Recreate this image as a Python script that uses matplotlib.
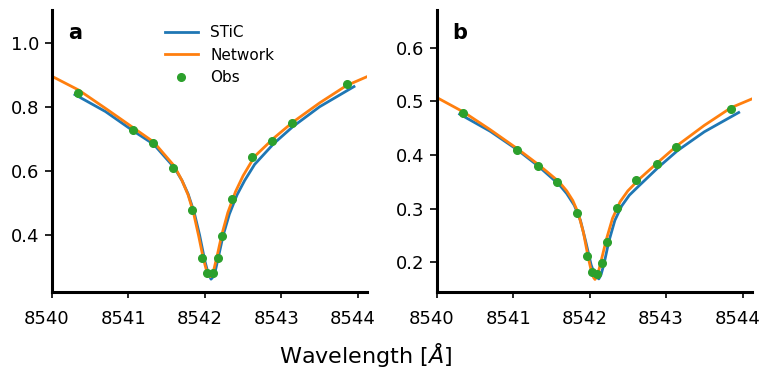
import matplotlib
matplotlib.use("Agg")
import matplotlib.pyplot as plt
import matplotlib.transforms as mtransforms

# ---------------- data ----------------
obs_wl_a = [8540.34, 8541.06, 8541.32, 8541.58, 8541.835, 8541.966, 8542.03, 8542.10,
            8542.166, 8542.227, 8542.358, 8542.62, 8542.88, 8543.14, 8543.856]
obs_a = [0.842, 0.728, 0.688, 0.608, 0.478, 0.329, 0.282, 0.282,
         0.329, 0.398, 0.512, 0.642, 0.694, 0.748, 0.870]

net_wl_a = [8540.0, 8540.35, 8540.7, 8541.06, 8541.33, 8541.6, 8541.7, 8541.78, 8541.85,
            8541.92, 8541.98, 8542.02, 8542.05, 8542.07, 8542.09, 8542.12, 8542.16,
            8542.22, 8542.3, 8542.4, 8542.5, 8542.65, 8542.9, 8543.15, 8543.5, 8543.85, 8544.15]
net_a = [0.895, 0.852, 0.795, 0.735, 0.690, 0.615, 0.570, 0.525, 0.470,
         0.395, 0.325, 0.290, 0.275, 0.270, 0.275, 0.295, 0.335,
         0.400, 0.470, 0.535, 0.585, 0.645, 0.702, 0.752, 0.812, 0.866, 0.897]

stic_wl_a = [8540.30, 8540.7, 8541.06, 8541.33, 8541.6, 8541.7, 8541.78, 8541.86,
             8541.93, 8542.0, 8542.04, 8542.08, 8542.11, 8542.14, 8542.18, 8542.24,
             8542.32, 8542.42, 8542.52, 8542.65, 8542.9, 8543.15, 8543.5, 8543.95]
stic_a = [0.838, 0.785, 0.725, 0.683, 0.610, 0.570, 0.528, 0.470,
          0.400, 0.318, 0.282, 0.262, 0.270, 0.292, 0.335, 0.400,
          0.465, 0.525, 0.570, 0.620, 0.685, 0.738, 0.800, 0.863]

obs_wl_b = [8540.34, 8541.056, 8541.32, 8541.577, 8541.835, 8541.966, 8542.026, 8542.097,
            8542.158, 8542.228, 8542.36, 8542.612, 8542.878, 8543.136, 8543.853]
obs_b = [0.478, 0.409, 0.380, 0.350, 0.292, 0.212, 0.181, 0.178,
         0.199, 0.238, 0.301, 0.353, 0.383, 0.415, 0.486]

net_wl_b = [8540.0, 8540.35, 8540.7, 8541.06, 8541.33, 8541.6, 8541.7, 8541.78, 8541.85,
            8541.92, 8541.98, 8542.02, 8542.05, 8542.07, 8542.09, 8542.12, 8542.16,
            8542.22, 8542.3, 8542.4, 8542.5, 8542.65, 8542.9, 8543.15, 8543.5, 8543.85, 8544.15]
net_b = [0.507, 0.480, 0.447, 0.411, 0.382, 0.350, 0.333, 0.315, 0.292,
         0.255, 0.210, 0.185, 0.172, 0.168, 0.172, 0.185, 0.208,
         0.243, 0.282, 0.313, 0.333, 0.355, 0.387, 0.418, 0.455, 0.488, 0.506]

stic_wl_b = [8540.30, 8540.7, 8541.06, 8541.33, 8541.6, 8541.7, 8541.8, 8541.88,
             8541.95, 8542.02, 8542.07, 8542.12, 8542.15, 8542.19, 8542.25, 8542.33,
             8542.42, 8542.52, 8542.65, 8542.9, 8543.15, 8543.5, 8543.95]
stic_b = [0.476, 0.444, 0.409, 0.379, 0.345, 0.328, 0.306, 0.278,
          0.238, 0.195, 0.176, 0.169, 0.177, 0.198, 0.238, 0.278,
          0.305, 0.325, 0.343, 0.377, 0.408, 0.443, 0.479]

xticks = [8540, 8541, 8542, 8543, 8544]
yticks_a = [0.4, 0.6, 0.8, 1.0]
yticks_b = [0.2, 0.3, 0.4, 0.5, 0.6]

# ---------------- figure ----------------
fig = plt.figure(figsize=(7.61, 3.69), dpi=100)
ax_a = fig.add_axes([52/761, 1-292.3/369, 315/761, 282.3/369])
ax_b = fig.add_axes([436.7/761, 1-292.3/369, 315/761, 282.3/369])

blue, orange, green = '#1f77b4', '#ff7f0e', '#2ca02c'
shift = mtransforms.ScaledTranslation(-5/100, 0, fig.dpi_scale_trans)

for ax, wl_s, s, wl_n, n, wl_o, o, yt, ylim, lab in [
        (ax_a, stic_wl_a, stic_a, net_wl_a, net_a, obs_wl_a, obs_a, yticks_a, (0.221, 1.102), 'a'),
        (ax_b, stic_wl_b, stic_b, net_wl_b, net_b, obs_wl_b, obs_b, yticks_b, (0.144, 0.670), 'b')]:
    ax.plot(wl_s, s, color=blue, lw=2, label='STiC', solid_joinstyle='round')
    ax.plot(wl_n, n, color=orange, lw=2, label='Network', solid_joinstyle='round')
    ax.plot(wl_o, o, 'o', color=green, ms=5.5, label='Obs', zorder=3)
    ax.set_xlim(8540, 8544.12)
    ax.set_ylim(*ylim)
    ax.set_xticks(xticks)
    ax.set_xticklabels([str(t) for t in xticks])
    ax.set_yticks(yt)
    ax.set_yticklabels(['%.1f' % t for t in yt])
    ax.tick_params(axis='x', labelsize=13, width=1.2, length=4.5, pad=8)
    ax.tick_params(axis='y', labelsize=13, width=1.2, length=5, pad=4)
    for lbl in ax.get_xticklabels():
        lbl.set_transform(lbl.get_transform() + shift)
    for sp in ['top', 'right']:
        ax.spines[sp].set_visible(False)
    for sp in ['left', 'bottom']:
        ax.spines[sp].set_linewidth(2.2)
    ax.text(0.073, 0.918, lab, transform=ax.transAxes, fontsize=15,
            fontweight='bold', ha='center', va='center')

ax_a.legend(loc='upper left', bbox_to_anchor=(0.314, 0.996), frameon=False,
            fontsize=11, handlelength=2.2, labelspacing=0.5, handletextpad=0.8)

fig.text(366/761, 1-355/369, r'Wavelength [$Å$]', ha='center', va='center', fontsize=16)

fig.savefig('out.png', dpi=100)
